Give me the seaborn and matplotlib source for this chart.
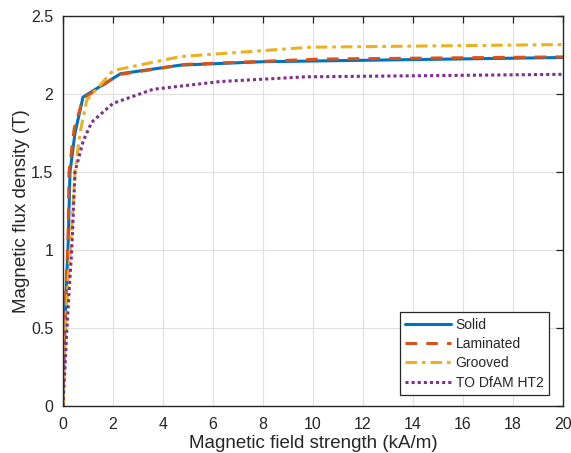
import numpy as np
import pandas as pd
import matplotlib
matplotlib.use("Agg")
import matplotlib.pyplot as plt
import seaborn as sns

# Data (H in kA/m, B in T)
solid_H = [0, 0.04, 0.08, 0.14, 0.2, 0.28, 0.48, 0.8, 2.3, 4.7, 8, 20]
solid_B = [0, 0.3, 0.5, 0.8, 1.0, 1.5, 1.75, 1.98, 2.13, 2.185, 2.207, 2.234]

lam_H = [0, 0.04, 0.08, 0.14, 0.2, 0.24, 0.45, 0.8, 2.0, 2.3, 4.9, 10.3, 20]
lam_B = [0, 0.35, 0.55, 0.85, 1.05, 1.5, 1.78, 1.97, 2.1, 2.126, 2.19, 2.224, 2.238]

grv_H = [0, 0.06, 0.12, 0.2, 0.3, 0.48, 0.68, 0.95, 2.0, 4.7, 9.9, 20]
grv_B = [0, 0.3, 0.55, 0.8, 1.0, 1.5, 1.75, 1.96, 2.15, 2.24, 2.30, 2.317]

to_H = [0, 0.08, 0.16, 0.25, 0.35, 0.48, 0.81, 1.15, 2.0, 3.6, 6.3, 9.7, 20]
to_B = [0, 0.25, 0.5, 0.75, 1.0, 1.5, 1.70, 1.82, 1.94, 2.03, 2.08, 2.11, 2.126]

names = ["Solid", "Laminated", "Grooved", "TO DfAM HT2"]
colors = ["#0072BD", "#D95319", "#EDB120", "#7E2F8E"]

frames = []
for n, h, b in zip(names, [solid_H, lam_H, grv_H, to_H], [solid_B, lam_B, grv_B, to_B]):
    frames.append(pd.DataFrame({"H": h, "B": b, "Material": n}))
df = pd.concat(frames, ignore_index=True)

sns.set_style("white")
plt.rcParams["font.family"] = ["Liberation Sans", "DejaVu Sans"]

fig = plt.figure(figsize=(5.71, 4.53), dpi=100)
ax = fig.add_axes([63/571, 1-406/453, 500/571, 390/453])

dash_styles = {"Solid": "", "Laminated": (3.8, 3.0), "Grooved": (3.8, 1.6, 1.2, 1.6), "TO DfAM HT2": (1, 1)}
sns.lineplot(data=df, x="H", y="B", hue="Material", style="Material",
             palette=dict(zip(names, colors)), dashes=dash_styles,
             sort=False, estimator=None, linewidth=2.2, ax=ax, legend=True)

ax.set_xlim(0, 20)
ax.set_ylim(0, 2.5)
ax.set_xticks(np.arange(0, 21, 2))
ax.set_yticks([0, 0.5, 1, 1.5, 2, 2.5])
ax.set_yticklabels(["0", "0.5", "1", "1.5", "2", "2.5"])
ax.grid(True, color="#e0e0e0", linewidth=0.8)
ax.set_axisbelow(True)
for s in ax.spines.values():
    s.set_color("#262626")
    s.set_linewidth(1.0)
    s.set_visible(True)
ax.tick_params(direction="in", length=5, width=0.9, top=True, right=True,
               labelsize=11.5, colors="#262626")
ax.tick_params(axis="x", pad=8)
ax.tick_params(axis="y", pad=7)
ax.set_xlabel("Magnetic field strength (kA/m)", fontsize=13.5, color="#262626", labelpad=2)
ax.set_ylabel("Magnetic flux density (T)", fontsize=13.5, color="#262626", labelpad=1)

leg = ax.legend(loc="lower right", bbox_to_anchor=(0.972, 0.028), fontsize=10,
                frameon=True, fancybox=False, edgecolor="#262626", framealpha=1,
                handlelength=3.25, handletextpad=0.36, borderpad=0.4, labelspacing=0.38,
                borderaxespad=0)
leg.get_frame().set_linewidth(0.9)
leg.set_title(None)

fig.savefig("out.png", dpi=100)
